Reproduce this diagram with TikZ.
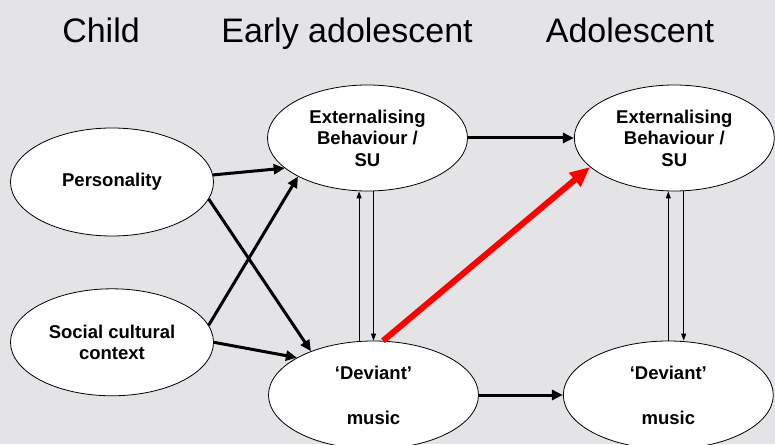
\documentclass[tikz,border=0pt]{standalone}
\usepackage{fontspec}
\setmainfont{Liberation Sans}
\usepackage{tikz}
\usetikzlibrary{shapes,arrows.meta,positioning,calc}
\definecolor{bggray}{RGB}{228,228,231}
\definecolor{pptred}{RGB}{255,0,0}

\begin{document}
\begin{tikzpicture}[x=1pt,y=1pt,
    blob/.style={ellipse,draw,fill=white,line width=0.8pt,align=center,inner sep=2pt,
      font=\bfseries\fontsize{18.5}{21.5}\selectfont},
    head/.style={anchor=base,font=\fontsize{34}{40}\selectfont},
    thick arrow/.style={line width=3pt,-{Triangle[length=11pt,width=10pt]}},
    thin arrow/.style={line width=0.8pt,-{Triangle[length=7pt,width=5pt]}},
    red arrow/.style={line width=6pt,pptred,-{Triangle[length=20pt,width=17pt]}}]
    \useasboundingbox (0,0) rectangle (775,444);
    \clip (0,0) rectangle (775,444);
    \fill[bggray] (0,0) rectangle (775,444);
    \node[head] (hchild) at (101,401) {Child};
    \node[head] (hearly) at (347,401) {Early adolescent};
    \node[head] (hadol) at (630,401) {Adolescent};
    \node[blob,minimum width=203pt,minimum height=108pt] (pers) at (112,262) {Personality};
    \node[blob,minimum width=203pt,minimum height=107pt] (soc) [below=52pt of pers] {Social cultural\\context};
    \node[blob,minimum width=200pt,minimum height=106pt] (eb1) at (367.5,306) {Externalising\\Behaviour /\\SU};
    \node[blob,minimum width=200pt,minimum height=106pt] (eb2) [right=106pt of eb1] {Externalising\\Behaviour /\\SU};
    \node[blob,minimum width=210pt,minimum height=108pt] (dev1) at (373.5,49) {‘Deviant’\\[23.5pt]music};
    \node[blob,minimum width=210pt,minimum height=108pt] (dev2) [right=84pt of dev1] {‘Deviant’\\[23.5pt]music};
    \draw[thick arrow] (pers.4) -- (eb1.200);
    \draw[thick arrow] (pers.-10) -- (dev1.145);
    \draw[thick arrow] (soc.10) -- (eb1.209);
    \draw[thick arrow] (soc.0) -- (dev1.154);
    \draw[thick arrow] (eb1.east) -- (eb2.west);
    \draw[thick arrow] (dev1.east) -- (dev2.west);
    \draw[thin arrow] (dev1.105) -- (dev1.105 |- eb1.south);
    \draw[thin arrow] (dev1.north |- eb1.south) -- (dev1.north);
    \draw[thin arrow] (dev2.north) -- (dev2.north |- eb2.south);
    \draw[thin arrow] (eb2.280) -- (eb2.280 |- dev2.north);
    \draw[red arrow] (dev1.80) -- (eb2.199);
\end{tikzpicture}
\end{document}
